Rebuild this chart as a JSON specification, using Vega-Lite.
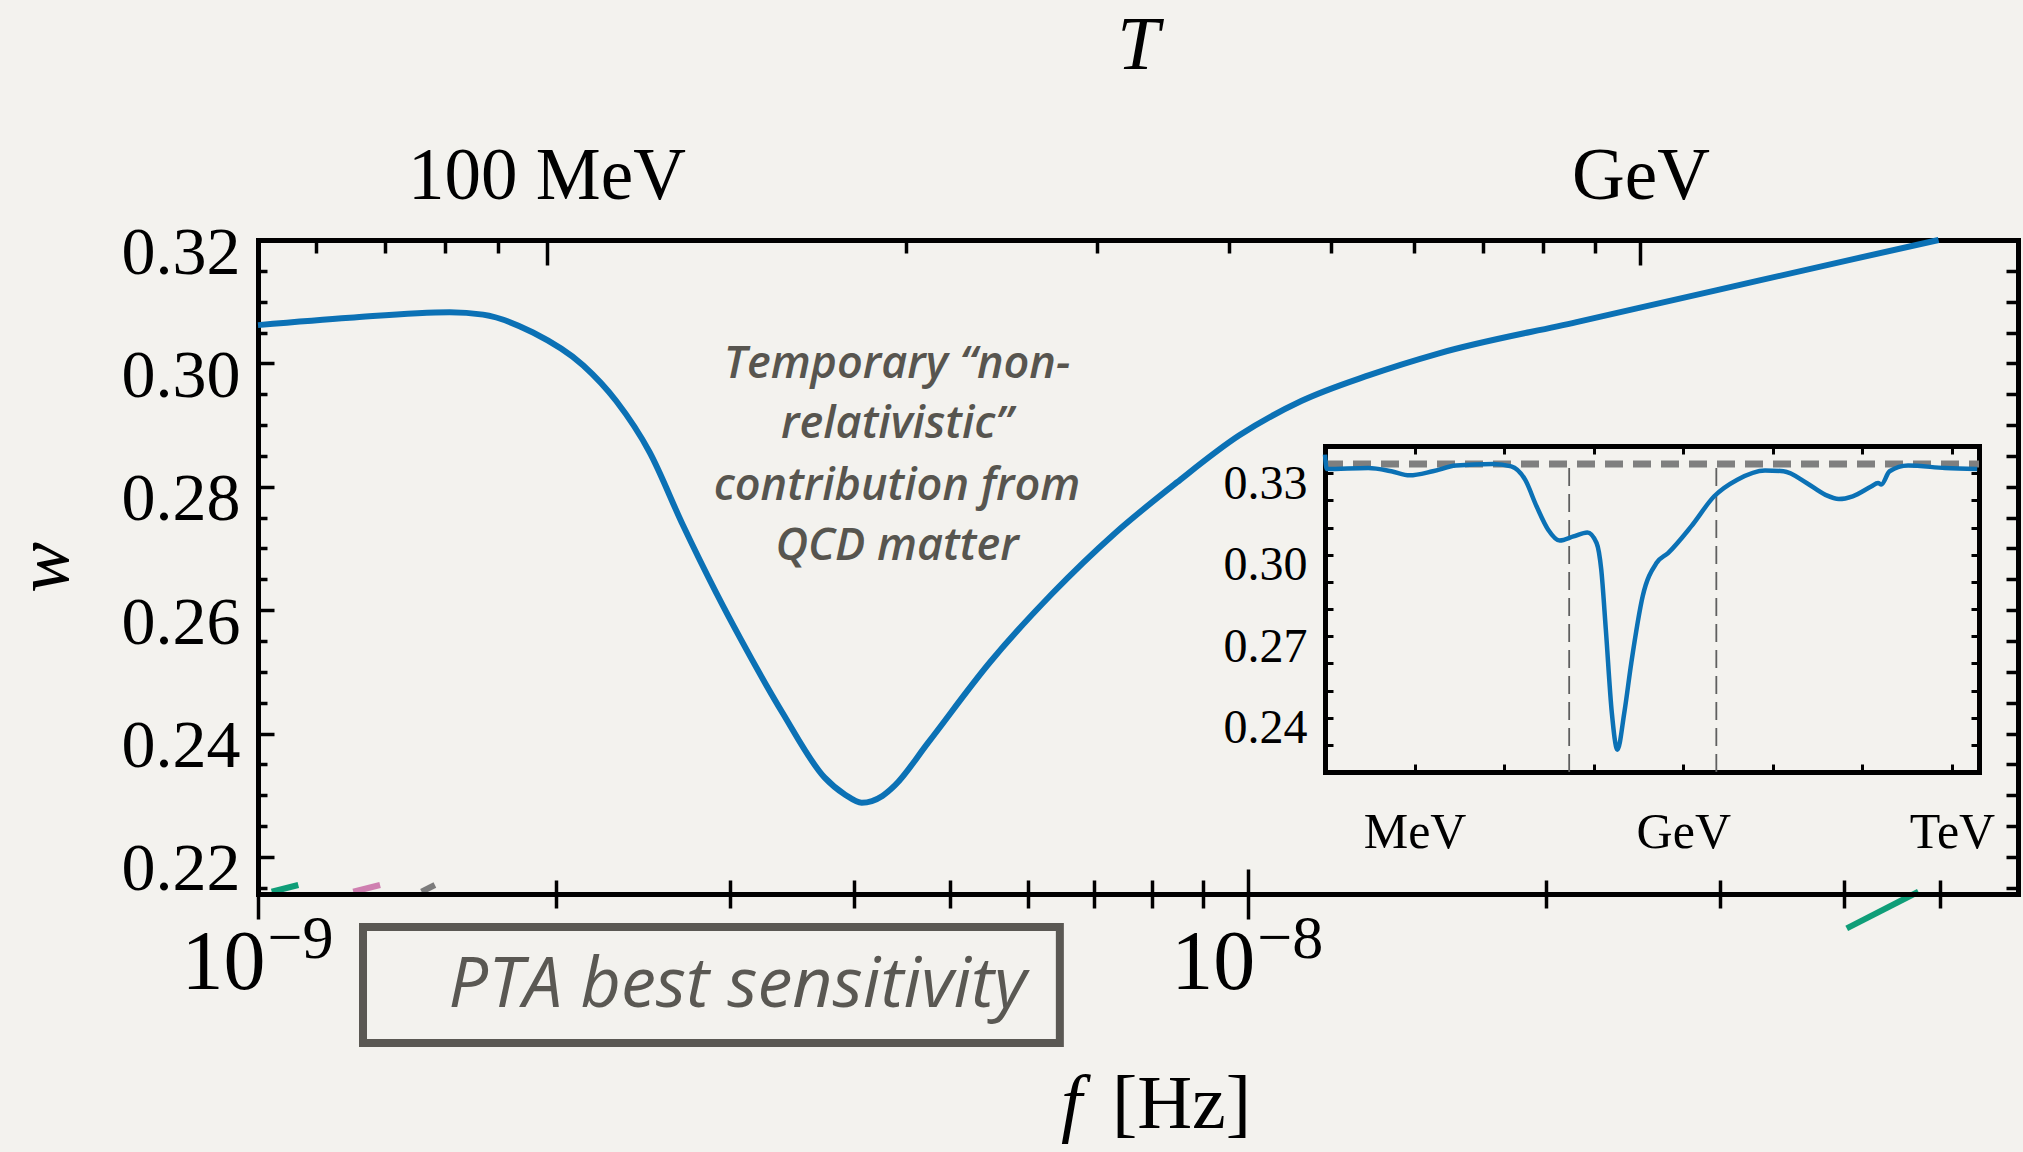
{
  "$schema": "https://vega.github.io/schema/vega-lite/v6.json",
  "width": 1760,
  "height": 654,
  "autosize": {"type": "none"},
  "padding": {"left": 258, "top": 240, "right": 5, "bottom": 258},
  "background": "#f3f2ee",
  "datasets": {
    "eos": [
      {"f": 1.0e-9, "w": 0.3062},
      {"f": 1.238e-9, "w": 0.3074},
      {"f": 1.562e-9, "w": 0.3083},
      {"f": 1.688e-9, "w": 0.3079},
      {"f": 1.896e-9, "w": 0.3050},
      {"f": 2.130e-9, "w": 0.2997},
      {"f": 2.301e-9, "w": 0.2939},
      {"f": 2.487e-9, "w": 0.2856},
      {"f": 2.687e-9, "w": 0.2738},
      {"f": 2.904e-9, "w": 0.2628},
      {"f": 3.079e-9, "w": 0.2551},
      {"f": 3.390e-9, "w": 0.2433},
      {"f": 3.735e-9, "w": 0.2329},
      {"f": 3.919e-9, "w": 0.2301},
      {"f": 4.073e-9, "w": 0.2288},
      {"f": 4.274e-9, "w": 0.2299},
      {"f": 4.400e-9, "w": 0.2316},
      {"f": 4.752e-9, "w": 0.2385},
      {"f": 5.492e-9, "w": 0.2516},
      {"f": 6.345e-9, "w": 0.2627},
      {"f": 7.333e-9, "w": 0.2724},
      {"f": 8.478e-9, "w": 0.2807},
      {"f": 9.797e-9, "w": 0.2883},
      {"f": 1.1324e-8, "w": 0.2939},
      {"f": 1.3265e-8, "w": 0.2981},
      {"f": 1.5572e-8, "w": 0.3016},
      {"f": 2.1487e-8, "w": 0.3067},
      {"f": 2.9642e-8, "w": 0.3118},
      {"f": 4.0907e-8, "w": 0.3169},
      {"f": 4.9877e-8, "w": 0.3200}
    ],
    "eosFull": [
      {"T": 1.0e-4, "w": 0.3368},
      {"T": 1.045e-4, "w": 0.3315},
      {"T": 3.04e-4, "w": 0.3319},
      {"T": 5.50e-4, "w": 0.3307},
      {"T": 8.81e-4, "w": 0.3292},
      {"T": 1.596e-3, "w": 0.3307},
      {"T": 2.89e-3, "w": 0.3328},
      {"T": 7.46e-3, "w": 0.3334},
      {"T": 0.0120, "w": 0.3325},
      {"T": 0.01714, "w": 0.3276},
      {"T": 0.0230, "w": 0.3178},
      {"T": 0.0310, "w": 0.3092},
      {"T": 0.0417, "w": 0.3052},
      {"T": 0.0594, "w": 0.3067},
      {"T": 0.0849, "w": 0.3082},
      {"T": 0.1076, "w": 0.3043},
      {"T": 0.1213, "w": 0.2945},
      {"T": 0.1365, "w": 0.2724},
      {"T": 0.1592, "w": 0.2418},
      {"T": 0.1837, "w": 0.2282},
      {"T": 0.2193, "w": 0.2418},
      {"T": 0.2624, "w": 0.2601},
      {"T": 0.352, "w": 0.2847},
      {"T": 0.504, "w": 0.2970},
      {"T": 0.676, "w": 0.3006},
      {"T": 1.225, "w": 0.3104},
      {"T": 2.213, "w": 0.3215},
      {"T": 4.009, "w": 0.3276},
      {"T": 8.18, "w": 0.3310},
      {"T": 13.15, "w": 0.3307},
      {"T": 23.8, "w": 0.3264},
      {"T": 38.2, "w": 0.3221},
      {"T": 54.5, "w": 0.3205},
      {"T": 77.8, "w": 0.3215},
      {"T": 125.0, "w": 0.3251},
      {"T": 149.3, "w": 0.3264},
      {"T": 162.2, "w": 0.3258},
      {"T": 200.9, "w": 0.3307},
      {"T": 322.8, "w": 0.3328},
      {"T": 835.6, "w": 0.3319},
      {"T": 1910, "w": 0.3315}
    ],
    "conformal": [{"T0": 0.0001, "T1": 2000, "w": 0.33333}],
    "window": [
      {"T": 0.0532, "w0": 0.22, "w1": 0.3333},
      {"T": 2.337, "w0": 0.22, "w1": 0.3333}
    ],
    "note": [
      {"f": 4.4214e-9, "w": 0.29758, "label": "Temporary “non-"},
      {"f": 4.4214e-9, "w": 0.28786, "label": "relativistic”"},
      {"f": 4.4214e-9, "w": 0.27786, "label": "contribution from"},
      {"f": 4.4214e-9, "w": 0.26813, "label": "QCD matter"}
    ],
    "pta": [{"f0": 1.2767e-9, "f1": 6.4584e-9, "w0": 0.20865, "w1": 0.18985}],
    "ptaLabel": [{"f": 1.5577e-9, "w": 0.19573, "label": "PTA best sensitivity"}],
    "traces": [
      {"curve": "curve 1", "f": 1.0324e-9, "w": 0.21437},
      {"curve": "curve 1", "f": 1.0983e-9, "w": 0.21546},
      {"curve": "curve 2", "f": 1.2480e-9, "w": 0.21437},
      {"curve": "curve 2", "f": 1.3284e-9, "w": 0.21546},
      {"curve": "curve 3", "f": 1.4630e-9, "w": 0.21437},
      {"curve": "curve 3", "f": 1.5090e-9, "w": 0.21546},
      {"curve": "curve 4", "f": 4.0283e-8, "w": 0.20844},
      {"curve": "curve 4", "f": 4.7587e-8, "w": 0.21437}
    ]
  },
  "layer": [
    {
      "layer": [
        {
          "data": {"name": "pta"},
          "mark": {"type": "rect", "fill": "transparent", "stroke": "#5a5853", "strokeWidth": 8},
          "encoding": {
            "x": {"field": "f0", "type": "quantitative",
              "scale": {"type": "log", "domain": [1e-9, 6e-8], "nice": false},
              "axis": {"orient": "bottom", "values": [1e-9, 1e-8], "ticks": false, "tickSize": 0,
                "domain": true, "domainWidth": 5, "domainCap": "square", "zindex": 1,
                "labelExpr": "'10'", "labelFontSize": 84, "labelPadding": 94,
                "labelBaseline": "alphabetic", "labelOffset": -35,
                "title": "[Hz]", "titleFontSize": 76, "titleX": 923, "titleY": 233,
                "titleBaseline": "alphabetic", "titleAlign": "center", "titleAnchor": null}},
            "x2": {"field": "f1"},
            "y": {"field": "w0", "type": "quantitative",
              "scale": {"type": "linear", "domain": [0.214, 0.32], "nice": false, "zero": false},
              "axis": {"orient": "left", "values": [0.22, 0.24, 0.26, 0.28, 0.3, 0.32], "ticks": false, "tickSize": 0,
                "domain": false, "labelExpr": "format(datum.value, '.2f')", "labelFontSize": 68,
                "labelPadding": 18, "labelBaseline": "alphabetic", "labelOffset": 33,
                "title": "w", "titleFontStyle": "italic", "titleFontSize": 76, "titleX": -214, "titleY": 327,
                "titleAngle": 270, "titleBaseline": "middle", "titleAlign": "center", "titleAnchor": null}},
            "y2": {"field": "w1"}
          }
        },
        {
          "data": {"name": "ptaLabel"},
          "mark": {"type": "text", "font": "Open Sans", "fontStyle": "italic", "fontSize": 70,
            "color": "#5a5853", "align": "left", "baseline": "alphabetic"},
          "encoding": {
            "x": {"field": "f", "type": "quantitative",
              "scale": {"type": "log", "domain": [1e-9, 6e-8], "nice": false},
              "axis": {"orient": "bottom", "values": [1e-9, 1e-8], "ticks": false, "tickSize": 0,
                "domain": false, "labelExpr": "datum.value < 5e-9 ? '−9' : '−8'", "labelFontSize": 62,
                "labelPadding": 63, "labelBaseline": "alphabetic", "labelOffset": 42,
                "title": "f", "titleFontStyle": "italic", "titleFontSize": 76, "titleX": 813, "titleY": 233,
                "titleBaseline": "alphabetic", "titleAlign": "center", "titleAnchor": null}},
            "y": {"field": "w", "type": "quantitative",
              "scale": {"type": "linear", "domain": [0.214, 0.32], "nice": false, "zero": false},
              "axis": {"orient": "right",
                "values": [0.215, 0.22, 0.225, 0.23, 0.235, 0.24, 0.245, 0.25, 0.255, 0.26, 0.265, 0.27, 0.275, 0.28, 0.285, 0.29, 0.295, 0.3, 0.305, 0.31, 0.315],
                "tickSize": -12, "tickWidth": 3.5, "domain": true, "domainWidth": 5, "domainCap": "square",
                "labels": false, "title": null}},
            "text": {"field": "label"}
          }
        },
        {
          "data": {"name": "note"},
          "mark": {"type": "text", "font": "Open Sans", "fontStyle": "italic", "fontWeight": 600,
            "fontSize": 45, "color": "#57554f", "align": "center", "baseline": "alphabetic"},
          "encoding": {
            "x": {"field": "f", "type": "quantitative",
              "scale": {"type": "log", "domain": [1e-9, 6e-8], "nice": false},
              "axis": {"orient": "bottom", "values": [1e-9, 1e-8], "tickSize": 50, "offset": -25,
                "tickWidth": 3.5, "domain": false, "labels": false, "title": null}},
            "y": {"field": "w", "type": "quantitative",
              "scale": {"type": "linear", "domain": [0.214, 0.32], "nice": false, "zero": false},
              "axis": {"orient": "left", "values": [0.22, 0.24, 0.26, 0.28, 0.3, 0.32], "tickSize": -16,
                "tickWidth": 3.5, "domain": false, "labels": false, "title": null}},
            "text": {"field": "label"}
          }
        },
        {
          "data": {"name": "traces"},
          "mark": {"type": "line", "strokeWidth": 6, "clip": false},
          "encoding": {
            "x": {"field": "f", "type": "quantitative",
              "scale": {"type": "log", "domain": [1e-9, 6e-8], "nice": false},
              "axis": {"orient": "top",
                "values": [1.1457e-9, 1.3439e-9, 1.5451e-9, 1.749e-9, 4.5148e-9, 7.0472e-9, 9.5832e-9, 1.2135e-8, 1.4723e-8, 1.7284e-8, 1.9855e-8, 2.2424e-8],
                "tickSize": -13, "tickWidth": 3.5, "domain": true, "domainWidth": 5, "domainCap": "square",
                "labels": false, "title": null}},
            "y": {"field": "w", "type": "quantitative",
              "scale": {"type": "linear", "domain": [0.214, 0.32], "nice": false, "zero": false},
              "axis": null},
            "color": {"field": "curve", "type": "nominal",
              "scale": {"domain": ["curve 1", "curve 2", "curve 3", "curve 4"],
                "range": ["#0f9e78", "#cf7fb0", "#7c7c7c", "#0f9e78"]},
              "legend": null}
          }
        },
        {
          "data": {"name": "eos"},
          "mark": {"type": "line", "color": "#0b71b5", "strokeWidth": 6, "interpolate": "monotone"},
          "encoding": {
            "x": {"field": "f", "type": "quantitative",
              "scale": {"type": "log", "domain": [1e-9, 6e-8], "nice": false},
              "axis": {"orient": "bottom",
                "values": [2e-9, 3e-9, 4e-9, 5e-9, 6e-9, 7e-9, 8e-9, 9e-9, 2e-8, 3e-8, 4e-8, 5e-8],
                "tickSize": 28, "offset": -14, "tickWidth": 3.5, "domain": false, "labels": false, "title": null}},
            "y": {"field": "w", "type": "quantitative",
              "scale": {"type": "linear", "domain": [0.214, 0.32], "nice": false, "zero": false},
              "axis": {"orient": "left",
                "values": [0.215, 0.225, 0.23, 0.235, 0.245, 0.25, 0.255, 0.265, 0.27, 0.275, 0.285, 0.29, 0.295, 0.305, 0.31, 0.315],
                "tickSize": -9, "tickWidth": 3.5, "domain": true, "domainWidth": 5, "domainCap": "square",
                "labels": false, "title": null}}
          }
        },
        {
          "data": {"name": "eos"},
          "mark": {"type": "line", "strokeOpacity": 0},
          "encoding": {
            "x": {"field": "f", "type": "quantitative",
              "scale": {"type": "log", "domain": [1e-9, 6e-8], "nice": false},
              "axis": {"orient": "top", "values": [1.9565e-9, 2.4932e-8], "tickSize": -25, "tickWidth": 3.5,
                "domain": false, "labels": false, "title": null}},
            "y": {"field": "w", "type": "quantitative",
              "scale": {"type": "linear", "domain": [0.214, 0.32], "nice": false, "zero": false},
              "axis": null}
          }
        },
        {
          "data": {"name": "eos"},
          "mark": {"type": "line", "strokeOpacity": 0},
          "encoding": {
            "x": {"field": "f", "type": "quantitative",
              "scale": {"type": "log", "domain": [1e-9, 6e-8], "nice": false},
              "axis": {"orient": "top", "values": [1.9565e-9, 2.4932e-8], "ticks": false, "tickSize": 0,
                "domain": false, "labelExpr": "datum.value < 1e-8 ? '100 MeV' : 'GeV'", "labelFontSize": 73,
                "labelLimit": 0, "labelPadding": 42, "labelBaseline": "alphabetic",
                "title": "T", "titleFontStyle": "italic", "titleFontSize": 76, "titleY": -172,
                "titleBaseline": "alphabetic"}},
            "y": {"field": "w", "type": "quantitative",
              "scale": {"type": "linear", "domain": [0.214, 0.32], "nice": false, "zero": false},
              "axis": null}
          }
        }
      ],
      "resolve": {"axis": {"x": "independent", "y": "independent"}}
    },
    {
      "layer": [
        {
          "data": {"name": "conformal"},
          "mark": {"type": "rule", "color": "#7f7f7f", "strokeWidth": 7, "strokeDash": [18, 10]},
          "encoding": {
            "x": {"field": "T0", "type": "quantitative",
              "scale": {"type": "log", "domain": [0.0001, 2000], "nice": false, "range": [1067, 1721]},
              "axis": {"orient": "top", "offset": -206, "values": [0.001, 0.01, 0.1, 1, 10, 100, 1000],
                "tickSize": -8, "tickWidth": 3, "domain": true, "domainWidth": 5, "domainCap": "square",
                "labels": false, "title": null}},
            "x2": {"field": "T1"},
            "y": {"field": "w", "type": "quantitative",
              "scale": {"type": "linear", "domain": [0.22, 0.34], "nice": false, "zero": false, "range": [532, 206]},
              "axis": {"orient": "right", "offset": -39,
                "values": [0.23, 0.24, 0.25, 0.26, 0.27, 0.28, 0.29, 0.3, 0.31, 0.32, 0.33],
                "tickSize": -8, "tickWidth": 3, "domain": true, "domainWidth": 5, "domainCap": "square",
                "labels": false, "title": null}}
          }
        },
        {
          "data": {"name": "window"},
          "mark": {"type": "rule", "color": "#5f5f5f", "strokeWidth": 1.8, "strokeDash": [18, 8]},
          "encoding": {
            "x": {"field": "T", "type": "quantitative",
              "scale": {"type": "log", "domain": [0.0001, 2000], "nice": false, "range": [1067, 1721]},
              "axis": {"orient": "bottom", "offset": -122, "values": [0.001, 1, 1000], "ticks": false, "tickSize": 0,
                "domain": false, "labelExpr": "datum.value < 0.01 ? 'MeV' : datum.value < 10 ? 'GeV' : 'TeV'",
                "labelFontSize": 50, "labelPadding": 75, "labelBaseline": "alphabetic", "title": null}},
            "y": {"field": "w0", "type": "quantitative",
              "scale": {"type": "linear", "domain": [0.22, 0.34], "nice": false, "zero": false, "range": [532, 206]},
              "axis": {"orient": "left", "offset": -1067, "values": [0.24, 0.27, 0.3, 0.33], "ticks": false, "tickSize": 0,
                "domain": false, "labelExpr": "format(datum.value, '.2f')", "labelFontSize": 48,
                "labelPadding": 18, "labelBaseline": "alphabetic", "labelOffset": 25, "title": null}},
            "y2": {"field": "w1"}
          }
        },
        {
          "data": {"name": "eosFull"},
          "mark": {"type": "line", "color": "#0b71b5", "strokeWidth": 4.5, "interpolate": "monotone"},
          "encoding": {
            "x": {"field": "T", "type": "quantitative",
              "scale": {"type": "log", "domain": [0.0001, 2000], "nice": false, "range": [1067, 1721]},
              "axis": {"orient": "bottom", "offset": -122, "values": [0.001, 0.01, 0.1, 1, 10, 100, 1000],
                "tickSize": -8, "tickWidth": 3, "domain": true, "domainWidth": 5, "domainCap": "square",
                "labels": false, "title": null}},
            "y": {"field": "w", "type": "quantitative",
              "scale": {"type": "linear", "domain": [0.22, 0.34], "nice": false, "zero": false, "range": [532, 206]},
              "axis": {"orient": "left", "offset": -1067,
                "values": [0.23, 0.24, 0.25, 0.26, 0.27, 0.28, 0.29, 0.3, 0.31, 0.32, 0.33],
                "tickSize": -8, "tickWidth": 3, "domain": true, "domainWidth": 5, "domainCap": "square",
                "labels": false, "title": null}}
          }
        }
      ],
      "resolve": {"axis": {"x": "independent", "y": "independent"}}
    }
  ],
  "resolve": {
    "scale": {"x": "independent", "y": "independent"},
    "axis": {"x": "independent", "y": "independent"}
  },
  "config": {
    "view": {"stroke": null},
    "axis": {
      "grid": false,
      "labelFlush": false,
      "labelOverlap": false,
      "labelBound": false,
      "domainColor": "#000000",
      "tickColor": "#000000",
      "labelColor": "#000000",
      "titleColor": "#000000",
      "labelFont": "Liberation Serif",
      "titleFont": "Liberation Serif",
      "titleFontWeight": "normal"
    }
  }
}
